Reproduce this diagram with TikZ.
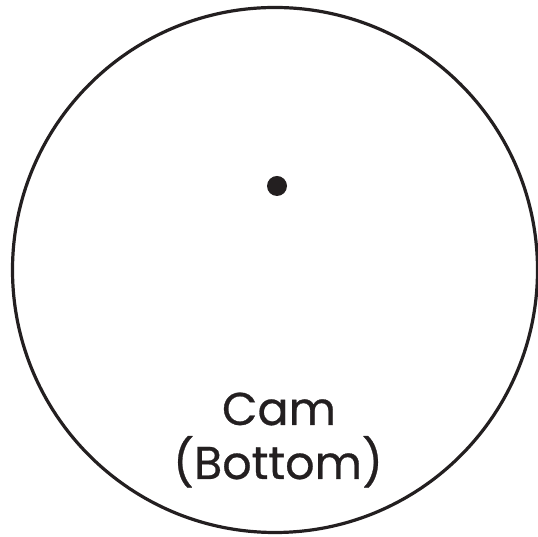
\documentclass[tikz,border=0pt]{standalone}
\usepackage{fontspec}
\setmainfont{Poppins}[UprightFeatures={FakeBold=0.6}]
\usepackage{xcolor}
\usepackage{tikz}
\definecolor{ink}{HTML}{231F20}

\begin{document}
\begin{tikzpicture}[x=1pt, y=1pt,
  rim/.style={draw=ink, circle, line width=3.2pt, minimum size=525pt, inner sep=0pt},
  pin/.style={circle, fill=ink, inner sep=0pt, minimum size=20pt},
  camtext/.style={text=ink, anchor=base, inner sep=0pt, font=\fontsize{46}{46}\selectfont}
]
\useasboundingbox (0,0) rectangle (538,537);
\node[rim] (cam) at (275,267) {};
\node[pin] (pivot) at (277,351) {};
\node[camtext] (camname) at (279,112) {Cam};
\node[camtext] (camside) at (278,58) {(Bottom)};
\end{tikzpicture}
\end{document}
